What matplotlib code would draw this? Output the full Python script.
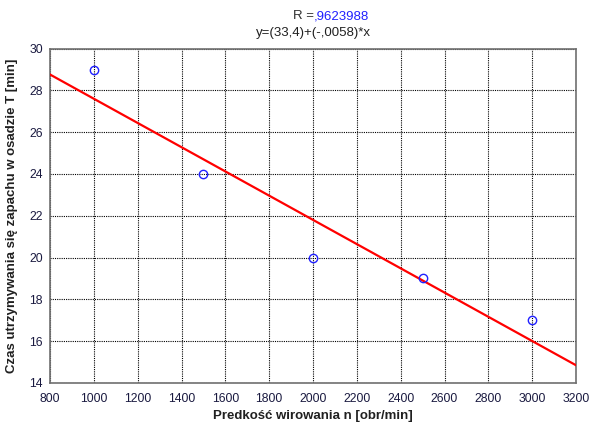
import numpy as np
import matplotlib
matplotlib.use('Agg')
import matplotlib.pyplot as plt

# pomiary: predkosc wirowania vs czas utrzymywania sie zapachu
speed = [1000, 1500, 2000, 2500, 3000]
time_t = [29, 24, 20, 19, 17]

# dopasowanie liniowe
intercept = 33.4
slope = -0.0058
r_text = ",9623988"
eq_text = "y=(33,4)+(-,0058)*x"

xticks = list(range(800, 3201, 200))
yticks = list(range(14, 31, 2))

plt.rcParams['font.family'] = ['Liberation Sans', 'DejaVu Sans']

fig = plt.figure(figsize=(5.89, 4.23), dpi=100)
ax = fig.add_axes([0.085, 0.095, 0.893, 0.79])

xfit = np.array([800, 3200])
ax.plot(xfit, intercept + slope * xfit, color='red', lw=1.6, zorder=3)
ax.plot(speed, time_t, 'o', mfc='none', mec='#2020ff', ms=6, mew=1.0, zorder=4)

ax.set_xlim(800, 3200)
ax.set_ylim(14, 30)
ax.set_xticks(xticks)
ax.set_yticks(yticks)
ax.grid(True, color='black', ls=(0, (1, 1)), lw=0.8)
ax.tick_params(length=0, labelsize=8.8, labelcolor='#1a1a40')
ax.tick_params(axis='x', pad=7)
ax.tick_params(axis='y', pad=5)
for s in ax.spines.values():
    s.set_color('#707070')
    s.set_linewidth(1.2)

ax.set_xlabel("Predkość wirowania n [obr/min]", fontsize=9.5, fontweight='bold',
              color='#202020', labelpad=4)
ax.set_ylabel("Czas utrzymywania się zapachu w osadzie T [min]", fontsize=9.5,
              fontweight='bold', color='#202020', labelpad=8)

fig.text(0.533, 0.962, "R =", ha='right', va='center', fontsize=9.5, color='#303030')
fig.text(0.533, 0.962, r_text, ha='left', va='center', fontsize=9.5, color='#2020ff')
fig.text(0.533, 0.922, eq_text, ha='center', va='center', fontsize=9.5, color='#202020')

fig.savefig('out.png', dpi=100)
